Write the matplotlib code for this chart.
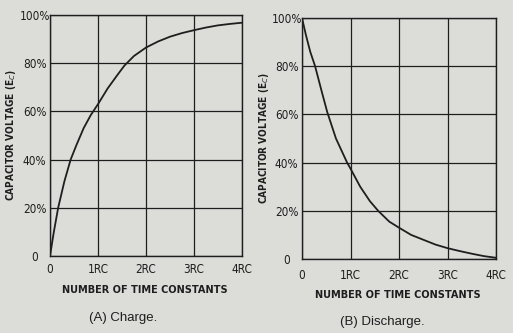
import matplotlib.pyplot as plt
from matplotlib import font_manager
from matplotlib.font_manager import FontProperties

# readings taken off the scanned charts (percent of full voltage)
tCharge = [0, 0.08, 0.17, 0.3, 0.43, 0.55, 0.7, 0.85, 1.0, 1.2, 1.4, 1.55, 1.75, 2.0, 2.25, 2.5, 2.75, 3.0, 3.25, 3.5, 3.75, 4.0]
vCharge = [0, 10, 20, 31, 40, 46, 53, 58.5, 63, 69.5, 75, 79, 83, 86.5, 89, 91, 92.5, 93.7, 94.8, 95.7, 96.3, 96.8]

tDischarge = [0, 0.08, 0.17, 0.27, 0.4, 0.52, 0.7, 0.93, 1.0, 1.2, 1.4, 1.57, 1.8, 2.0, 2.25, 2.5, 2.75, 3.0, 3.25, 3.5, 3.75, 4.0]
vDischarge = [100, 93, 86, 80, 70, 61, 50, 40, 37.5, 30, 24, 20, 15.5, 13, 10, 8, 6, 4.5, 3.3, 2.2, 1.2, 0.5]

xTicks = [0, 1, 2, 3, 4]
xTickLabels = ["0", "1RC", "2RC", "3RC", "4RC"]
yTicks = [0, 20, 40, 60, 80, 100]
yTickLabels = ["0", "20%", "40%", "60%", "80%", "100%"]

paper = "#dcdcd9"
ink = "#1e1e1e"


# look for a narrow face, the scan uses a condensed gothic type
def narrowFont(bold):
    best = None
    for f in font_manager.fontManager.ttflist:
        isNarrow = ("Narrow" in f.name or "Condensed" in f.name
                    or f.stretch in ("condensed", "semi-condensed"))
        if not isNarrow or f.style != "normal":
            continue
        w = f.weight if isinstance(f.weight, int) else (700 if "bold" in str(f.weight) else 400)
        if (w >= 600) != bold:
            continue
        score = 0 if "Liberation" in f.name else 1
        if best is None or score < best[0]:
            best = (score, f.fname)
    if best:
        return FontProperties(fname=best[1])
    return FontProperties(family="DejaVu Sans", weight="bold" if bold else "normal")


tickFont = narrowFont(False)
tickFont.set_size(8.5)
labFont = narrowFont(True)
labFont.set_size(7.8)
yLabFont = labFont.copy()
yLabFont.set_size(7.2)

W, H = 513, 333
fig = plt.figure(figsize=(W / 100, H / 100), dpi=100, facecolor=paper)


def panel(box, t, v, caption, capPos, xlabPos, ylabX, xpad):
    x0, y0, x1, y1 = box
    ax = fig.add_axes([x0 / W, 1 - y1 / H, (x1 - x0) / W, (y1 - y0) / H])
    ax.set_facecolor(paper)
    ax.plot(t, v, color=ink, lw=1.3, solid_capstyle="round")
    ax.set_xlim(0, 4)
    ax.set_ylim(0, 100)
    ax.set_xticks(xTicks)
    ax.set_xticklabels(xTickLabels, fontproperties=tickFont)
    ax.set_yticks(yTicks)
    ax.set_yticklabels(yTickLabels, fontproperties=tickFont, ha="center")
    ax.tick_params(length=0, colors=ink)
    ax.tick_params(axis="y", pad=11)
    ax.tick_params(axis="x", pad=xpad)
    ax.grid(True, color=ink, lw=0.9)
    for s in ax.spines.values():
        s.set_color(ink)
        s.set_linewidth(1.0)
    fig.text(xlabPos[0] / W, 1 - xlabPos[1] / H, "NUMBER OF TIME CONSTANTS",
             fontproperties=labFont, color=ink, ha="center", va="center")
    fig.text(ylabX / W, 1 - (y0 + y1) / 2 / H, "CAPACITOR VOLTAGE (E$_C$)",
             fontproperties=yLabFont, color=ink,
             ha="center", va="center", rotation=90)
    fig.text(capPos[0] / W, 1 - capPos[1] / H, caption,
             family="Liberation Sans", fontsize=9.5, color=ink,
             ha="center", va="center")
    return ax


panel((50, 15, 242, 256), tCharge, vCharge, "(A) Charge.", (123, 318), (145, 290), 11, 5)
panel((302, 18, 496, 259), tDischarge, vDischarge, "(B) Discharge.", (382, 322), (398, 295), 264, 7)

fig.savefig("out.png", dpi=100, facecolor=paper)
